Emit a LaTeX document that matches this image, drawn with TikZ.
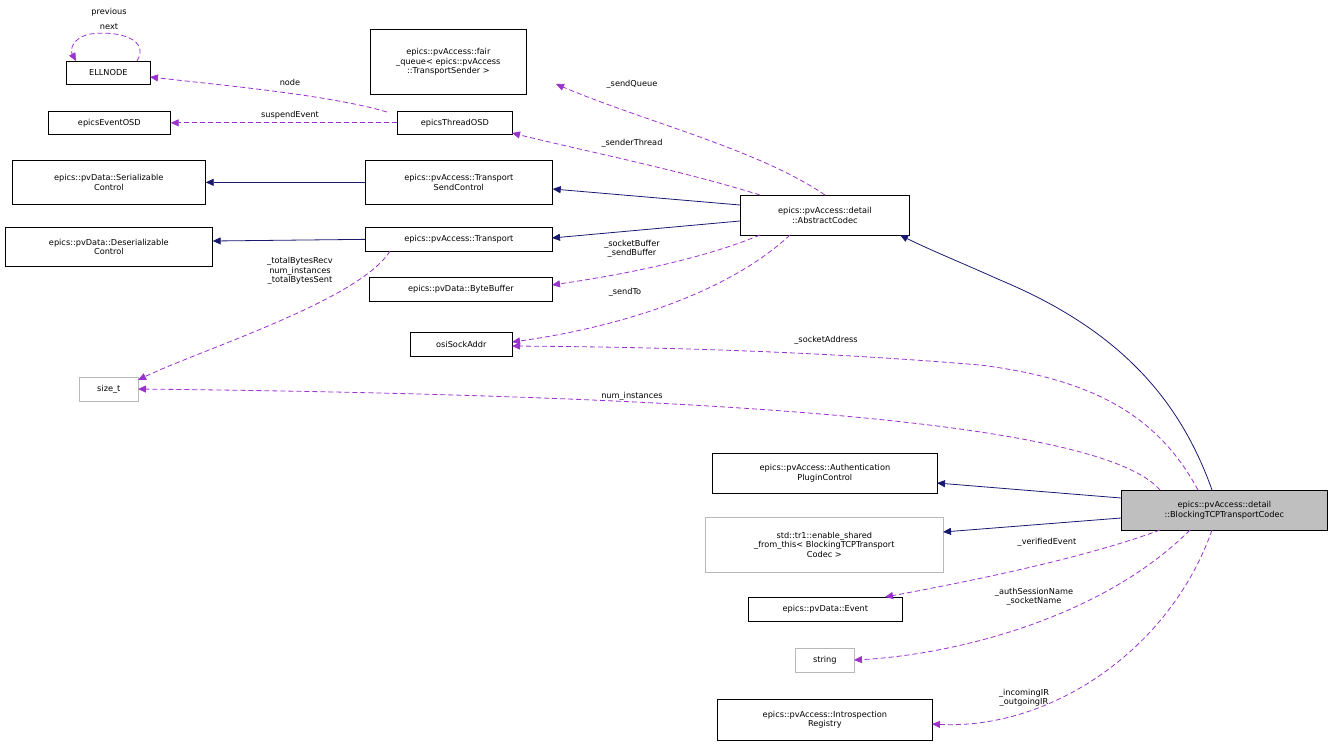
\documentclass[tikz,border=0pt]{standalone}
\usepackage{fontspec}
\setmainfont{DejaVu Sans}
\usetikzlibrary{arrows.meta}
\begin{document}
\begin{tikzpicture}[x=1pt,y=-1pt,
  font=\fontsize{8.2}{9.6}\selectfont,
  box/.style={draw=black,fill=white,line width=0.7pt,inner sep=0pt,align=center,anchor=north west},
  gbox/.style={box,draw=black!28},
  inh/.style={draw=blue!25!black!80!blue,color={rgb,255:red,25;green,25;blue,112},line width=0.8pt,-{Triangle[length=8pt,width=7pt]}},
  use/.style={color={rgb,255:red,154;green,50;blue,205},dashed,dash pattern=on 5pt off 3pt,line width=0.8pt,-{Triangle[length=8pt,width=7pt]}},
  lbl/.style={align=center,inner sep=0pt,font=\fontsize{8.2}{9.4}\selectfont}]
\useasboundingbox (0,0) rectangle (1332,747);
\def\bx#1#2#3#4#5#6#7{\node[#1,minimum width=#4-#2,minimum height=#5-#3] (#6) at (#2,#3) {#7};}
\bx{box}{66}{61}{150}{84}{ell}{ELLNODE}
\bx{box}{370}{29}{526}{94}{fq}{epics::pvAccess::fair\\\_queue< epics::pvAccess\\::TransportSender >}
\bx{box}{48}{111}{170}{134}{evo}{epicsEventOSD}
\bx{box}{397}{111}{512}{134}{tho}{epicsThreadOSD}
\bx{box}{12}{160}{205}{204}{ser}{epics::pvData::Serializable\\Control}
\bx{box}{365}{160}{552}{204}{tsc}{epics::pvAccess::Transport\\SendControl}
\bx{box}{740}{195}{909}{235}{ac}{epics::pvAccess::detail\\::AbstractCodec}
\bx{box}{5}{227}{212}{266}{des}{epics::pvData::Deserializable\\Control}
\bx{box}{365}{227}{552}{251}{tr}{epics::pvAccess::Transport}
\bx{box}{369}{277}{552}{301}{bb}{epics::pvData::ByteBuffer}
\bx{box}{410}{332}{512}{356}{osi}{osiSockAddr}
\bx{gbox}{79}{377}{138}{401}{st}{size\_t}
\bx{box}{712}{453}{937}{493}{auth}{epics::pvAccess::Authentication\\PluginControl}
\bx{gbox}{705}{517}{943}{572}{esh}{std::tr1::enable\_shared\\\_from\_this< BlockingTCPTransport\\Codec >}
\node[box,fill=black!25,minimum width=206,minimum height=40] (bt) at (1121,490) {epics::pvAccess::detail\\::BlockingTCPTransportCodec};
\bx{box}{748}{597}{902}{621}{ev}{epics::pvData::Event}
\bx{gbox}{795}{648}{854}{672}{str}{string}
\bx{box}{717}{699}{932}{740}{ir}{epics::pvAccess::Introspection\\Registry}

% self loop
\draw[use] (137,61) .. controls (150,40) and (120,30) .. (90,34) .. controls (72,38) and (70,50) .. (76,61);
\node[lbl] at (109,12) {previous};
\node[lbl] at (109,27) {next};
\draw[use] (tho.north west) ++(-10,1) .. controls (330,95) and (220,85) .. (150,77);
\node[lbl] at (290,82) {node};
\draw[use] (tho.west) -- (evo.east);
\node[lbl] at (290,115) {suspendEvent};
\draw[use] (ac.north) ++(0,0) .. controls (760,150) and (640,120) .. (556,84);
\node[lbl] at (632,84) {\_sendQueue};
\draw[use] (760,195) .. controls (680,170) and (580,150) .. (512,133);
\node[lbl] at (632,143) {\_senderThread};
\draw[inh] (tsc.west) -- (ser.east);
\draw[inh] (740,205) -- (tsc.east |- 0,189);
\draw[inh] (740,221) -- (552,238);
\draw[inh] (tr.west) -- (des.east |- 0,241);
\draw[use] (760,235) .. controls (700,260) and (620,275) .. (552,285);
\node[lbl] at (632,249) {\_socketBuffer\\\_sendBuffer};
\draw[use] (790,235) .. controls (720,300) and (600,330) .. (512,342);
\node[lbl] at (625,292) {\_sendTo};
\draw[use] (390,251) .. controls (360,300) and (200,350) .. (138,380);
\node[lbl] at (300,271) {\_totalBytesRecv\\num\_instances\\\_totalBytesSent};
\draw[inh] (1212,490) .. controls (1180,400) and (1120,330) .. (1000,280) .. controls (960,262) and (930,250) .. (900,235);
\draw[use] (1198,490) .. controls (1160,420) and (1100,380) .. (980,365) .. controls (800,350) and (640,347) .. (512,346);
\node[lbl] at (826,340) {\_socketAddress};
\draw[use] (1160,490) .. controls (1100,420) and (700,395) .. (138,389);
\node[lbl] at (632,396) {num\_instances};
\draw[inh] (1121,498) -- (937,483);
\draw[inh] (1121,518) -- (943,532);
\draw[use] (1160,530) .. controls (1080,560) and (950,585) .. (885,597);
\node[lbl] at (1047,542) {\_verifiedEvent};
\draw[use] (1190,530) .. controls (1100,620) and (950,655) .. (854,660);
\node[lbl] at (1034,597) {\_authSessionName\\\_socketName};
\draw[use] (1212,530) .. controls (1170,650) and (1050,730) .. (932,724);
\node[lbl] at (1024,698) {\_incomingIR\\\_outgoingIR};
\end{tikzpicture}
\end{document}
